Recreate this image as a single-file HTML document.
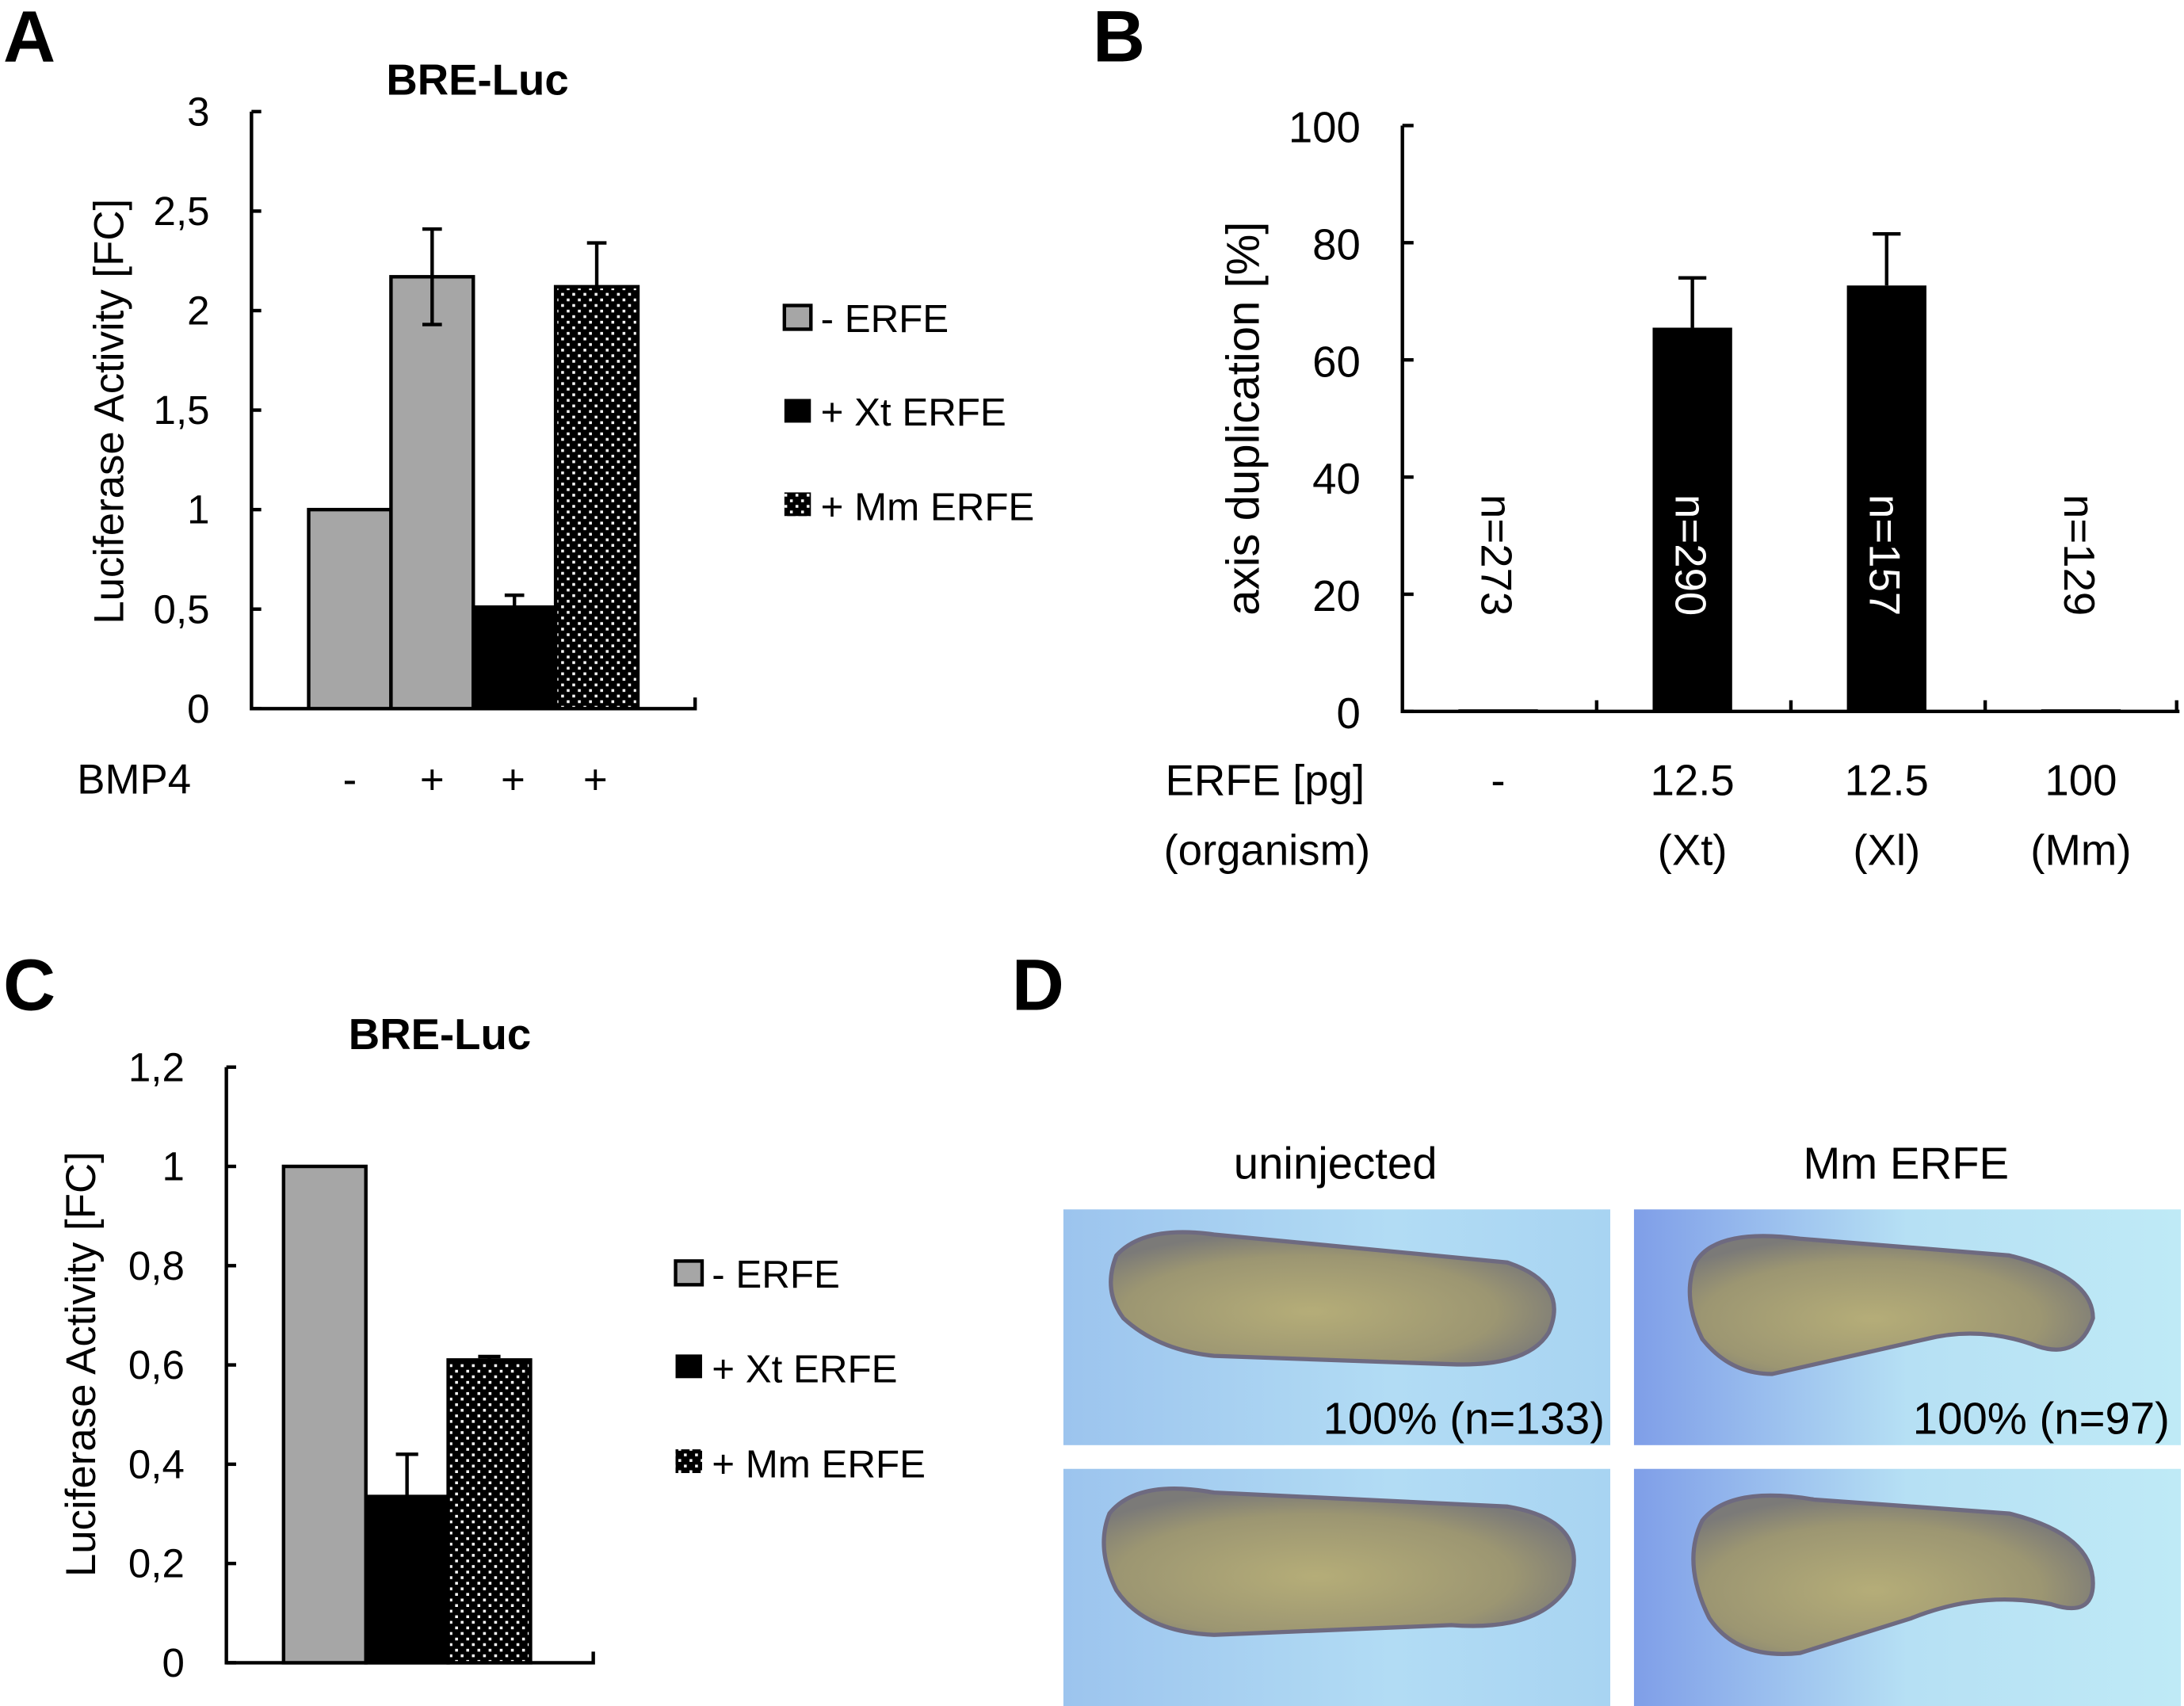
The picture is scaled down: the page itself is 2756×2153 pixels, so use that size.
<!DOCTYPE html>
<html><head><meta charset="utf-8"><style>
html,body{margin:0;padding:0;background:#fff}
svg{display:block}
text{font-family:"Liberation Sans Narrow","Liberation Sans",sans-serif;fill:#000}
</style></head><body>
<svg id="fig" width="2756" height="2153" viewBox="0 0 1565 1223" xmlns="http://www.w3.org/2000/svg">
<defs>
<pattern id="dots" width="8" height="8" patternUnits="userSpaceOnUse"><rect width="8" height="8" fill="#000"/><rect x="2" y="2" width="2" height="2" fill="#fff"/><rect x="6" y="6" width="2" height="2" fill="#fff"/></pattern>
<linearGradient id="bgL" x1="0" y1="0" x2="1" y2="0"><stop offset="0" stop-color="#9cc4ee"/><stop offset="0.6" stop-color="#b2dcf4"/><stop offset="1" stop-color="#a8d4f2"/></linearGradient>
<linearGradient id="bgR" x1="0" y1="0" x2="1" y2="0"><stop offset="0" stop-color="#7f9ee8"/><stop offset="0.5" stop-color="#b6e0f4"/><stop offset="1" stop-color="#bfeaf6"/></linearGradient>
<radialGradient id="emb" cx="0.45" cy="0.6" r="0.6"><stop offset="0" stop-color="#b5ad78"/><stop offset="0.7" stop-color="#9c9672"/><stop offset="1" stop-color="#7b7a78"/></radialGradient>
</defs>
<g>
<text x="2" y="44" font-size="52" font-weight="bold" font-family="Liberation Sans">A</text>
<text x="342" y="68" font-size="31" font-weight="bold" text-anchor="middle">BRE-Luc</text>
<text transform="translate(88,295) rotate(-90)" font-size="30" text-anchor="middle">Luciferase Activity [FC]</text>
<g id="aAxis"></g>
<g id="aBars"></g>
<text x="55" y="569" font-size="30">BMP4</text>
<g id="aCats"></g>
<g>
<rect x="562" y="219" width="19" height="17" fill="#a6a6a6" stroke="#000" stroke-width="2.5"/>
<text x="588" y="238" font-size="28">- ERFE</text>
<rect x="562" y="286" width="19" height="17" fill="#000"/>
<text x="588" y="305" font-size="28">+ Xt ERFE</text>
<rect x="562" y="353" width="19" height="17" fill="url(#dots)"/>
<text x="588" y="373" font-size="28">+ Mm ERFE</text>
</g>
</g>
<g>
<text x="783" y="44" font-size="52" font-weight="bold" font-family="Liberation Sans">B</text>
<text transform="translate(902,300) rotate(-90)" font-size="33" text-anchor="middle">axis duplication [%]</text>
<g id="bAxis"></g>
<g id="bBars"></g>
<text x="978" y="570" font-size="31" text-anchor="end">ERFE [pg]</text>
<text x="982" y="620" font-size="31" text-anchor="end">(organism)</text>
<g id="bCats"></g>
</g>
<g>
<text x="2" y="724" font-size="52" font-weight="bold" font-family="Liberation Sans">C</text>
<text x="315" y="752" font-size="31" font-weight="bold" text-anchor="middle">BRE-Luc</text>
<text transform="translate(68,978) rotate(-90)" font-size="30" text-anchor="middle">Luciferase Activity [FC]</text>
<g id="cAxis"></g>
<g id="cBars"></g>
<g>
<rect x="484" y="904" width="19" height="17" fill="#a6a6a6" stroke="#000" stroke-width="2.5"/>
<text x="510" y="923" font-size="28">- ERFE</text>
<rect x="484" y="971" width="19" height="17" fill="#000"/>
<text x="510" y="991" font-size="28">+ Xt ERFE</text>
<rect x="484" y="1039" width="19" height="17" fill="url(#dots)"/>
<text x="510" y="1059" font-size="28">+ Mm ERFE</text>
</g>
</g>
<g>
<text x="725" y="724" font-size="52" font-weight="bold" font-family="Liberation Sans">D</text>
<text x="957" y="845" font-size="32" text-anchor="middle">uninjected</text>
<text x="1366" y="845" font-size="32" text-anchor="middle">Mm ERFE</text>
<g>
<rect x="762" y="867" width="392" height="169" fill="url(#bgL)"/>
<path d="M800,900 Q820,878 870,885 L1080,905 Q1125,920 1110,955 Q1095,980 1040,978 L870,972 Q830,968 805,945 Q790,925 800,900Z" fill="url(#emb)" stroke="#6e6a80" stroke-width="3"/>
<text x="1150" y="1028" font-size="32" text-anchor="end">100% (n=133)</text>
</g>
<g>
<rect x="1171" y="867" width="392" height="169" fill="url(#bgR)"/>
<path d="M1215,905 Q1230,880 1290,888 L1440,900 Q1500,915 1500,945 Q1490,975 1460,965 Q1420,950 1380,960 L1270,985 Q1240,985 1220,960 Q1205,930 1215,905Z" fill="url(#emb)" stroke="#6e6a80" stroke-width="3"/>
<text x="1555" y="1028" font-size="32" text-anchor="end">100% (n=97)</text>
</g>
<g>
<rect x="762" y="1053" width="392" height="170" fill="url(#bgL)"/>
<path d="M795,1085 Q815,1060 870,1070 L1080,1080 Q1140,1090 1125,1135 Q1105,1170 1040,1165 L870,1172 Q820,1170 800,1140 Q785,1110 795,1085Z" fill="url(#emb)" stroke="#6e6a80" stroke-width="3"/>
</g>
<g>
<rect x="1171" y="1053" width="392" height="170" fill="url(#bgR)"/>
<path d="M1220,1090 Q1240,1065 1300,1075 L1440,1085 Q1500,1100 1500,1135 Q1500,1160 1470,1150 Q1420,1140 1370,1160 L1290,1185 Q1245,1190 1225,1160 Q1205,1120 1220,1090Z" fill="url(#emb)" stroke="#6e6a80" stroke-width="3"/>
</g>
</g>
</svg>
<script>
// Panel A data
const aCategories = ['-', '+', '+', '+'];
const aValues = [1.0, 2.17, 0.51, 2.12];
const aErrors = [0, 0.24, 0.06, 0.22];
const aTicks = [0, 0.5, 1, 1.5, 2, 2.5, 3];
const aTickLabels = ['0', '0,5', '1', '1,5', '2', '2,5', '3'];
// Panel B data
const bCategories = ['-', '12.5', '12.5', '100'];
const bOrganisms = ['', '(Xt)', '(Xl)', '(Mm)'];
const bValues = [0, 65.5, 72.7, 0];
const bErrors = [0, 8.5, 8.8, 0];
const bCounts = ['n=273', 'n=290', 'n=157', 'n=129'];
const bTicks = [0, 20, 40, 60, 80, 100];
// Panel C data
const cValues = [1.0, 0.335, 0.61];
const cErrors = [0, 0.085, 0.007];
const cTicks = [0, 0.2, 0.4, 0.6, 0.8, 1, 1.2];
const cTickLabels = ['0', '0,2', '0,4', '0,6', '0,8', '1', '1,2'];

const NS = 'http://www.w3.org/2000/svg';
function mk(parent, tag, attrs, txt) {
  const e = document.createElementNS(NS, tag);
  for (const k in attrs) e.setAttribute(k, attrs[k]);
  if (txt !== undefined) e.textContent = txt;
  parent.appendChild(e);
  return e;
}
const fills = ['#a6a6a6', '#a6a6a6', '#000', 'url(#dots)'];
const cFills = ['#a6a6a6', '#000', 'url(#dots)'];

// Panel A
(function () {
  const ax = document.getElementById('aAxis'), bars = document.getElementById('aBars'), cats = document.getElementById('aCats');
  const x0 = 180, x1 = 498, yB = 508, yT = 80, max = 3;
  const y = v => yB - (v / max) * (yB - yT);
  const l = mk(ax, 'path', {d: `M${x0},${yT} V${yB} H${x1} V${yB - 8}`, fill: 'none', stroke: '#000', 'stroke-width': 2.5});
  
  
  aTicks.forEach((t, i) => {
    mk(ax, 'line', {x1: x0, x2: x0 + 7, y1: y(t), y2: y(t), stroke: '#000', 'stroke-width': 2.5});
    const tx = mk(ax, 'text', {x: 150, y: y(t) + 10, 'font-size': 29, 'text-anchor': 'end'}, aTickLabels[i]);
    
    
  });
  const bw = 59, start = 221;
  aValues.forEach((v, i) => {
    const bx = start + i * bw;
    const r = mk(bars, 'rect', {x: bx, y: y(v), width: bw, height: yB - y(v), fill: fills[i], stroke: '#000', 'stroke-width': 2.5});
    
    
    if (aErrors[i] > 0) {
      const cx = bx + bw / 2;
      const lo = i === 1 ? v - aErrors[i] : v;
      const e = mk(bars, 'path', {d: `M${cx},${y(lo)} V${y(v + aErrors[i])} M${cx - 7},${y(v + aErrors[i])} H${cx + 7}` + (i === 1 ? ` M${cx - 7},${y(lo)} H${cx + 7}` : ''), stroke: '#000', 'stroke-width': 2.5, fill: 'none'});
      
      
    }
    const t = mk(cats, 'text', {x: bx + bw / 2 + [-0, 0, -1, -1][i], y: 569, 'font-size': 30, 'text-anchor': 'middle'}, aCategories[i]);
    
    
  });
})();

// Panel B
(function () {
  const ax = document.getElementById('bAxis'), bars = document.getElementById('bBars'), cats = document.getElementById('bCats');
  const x0 = 1005, x1 = 1562, yB = 510, yT = 90, max = 100;
  const y = v => yB - (v / max) * (yB - yT);
  const l = mk(ax, 'path', {d: `M${x0},${yT} V${yB} H${x1}`, fill: 'none', stroke: '#000', 'stroke-width': 2.5});
  
  
  bTicks.forEach(t => {
    mk(ax, 'line', {x1: x0, x2: x0 + 8, y1: y(t), y2: y(t), stroke: '#000', 'stroke-width': 2.5});
    const tx = mk(ax, 'text', {x: 975, y: y(t) + 12, 'font-size': 31, 'text-anchor': 'end'}, String(t));
    
    
  });
  const step = (x1 - x0) / 4;
  for (let i = 1; i <= 4; i++) mk(ax, 'line', {x1: x0 + i * step - (i === 4 ? 2 : 0), x2: x0 + i * step - (i === 4 ? 2 : 0), y1: yB - 8, y2: yB, stroke: '#000', 'stroke-width': 2.5});
  bValues.forEach((v, i) => {
    const cx = x0 + step * (i + 0.5) - 1;
    const bw = 57;
    const r = mk(bars, 'rect', {x: cx - bw / 2, y: v > 0 ? y(v) : yB - 1.5, width: bw, height: v > 0 ? yB - y(v) : 1.5, fill: '#000'});
    
    
    if (bErrors[i] > 0) {
      const e = mk(bars, 'path', {d: `M${cx},${y(v)} V${y(v + bErrors[i])} M${cx - 10},${y(v + bErrors[i])} H${cx + 10}`, stroke: '#000', 'stroke-width': 2.5, fill: 'none'});
      
      
    }
    const n = mk(bars, 'text', {transform: `translate(${cx - 12},398) rotate(90)`, 'font-size': 31, 'text-anchor': 'middle', style: v > 0 ? 'fill:#fff' : ''}, bCounts[i]);
    
    
    const c = mk(cats, 'text', {x: cx, y: 570, 'font-size': 31, 'text-anchor': 'middle'}, bCategories[i]);
    
    
    if (bOrganisms[i]) {
      const o = mk(cats, 'text', {x: cx, y: 620, 'font-size': 31, 'text-anchor': 'middle'}, bOrganisms[i]);
      
      
    }
  });
})();

// Panel C
(function () {
  const ax = document.getElementById('cAxis'), bars = document.getElementById('cBars');
  const x0 = 162, x1 = 425, yB = 1192, yT = 765, max = 1.2;
  const y = v => yB - (v / max) * (yB - yT);
  const l = mk(ax, 'path', {d: `M${x0},${yT} V${yB} H${x1} V${yB - 8}`, fill: 'none', stroke: '#000', 'stroke-width': 2.5});
  
  
  cTicks.forEach((t, i) => {
    mk(ax, 'line', {x1: x0, x2: x0 + 7, y1: y(t), y2: y(t), stroke: '#000', 'stroke-width': 2.5});
    const tx = mk(ax, 'text', {x: 132, y: y(t) + 10, 'font-size': 29, 'text-anchor': 'end'}, cTickLabels[i]);
    
    
  });
  const bw = 59, start = 203;
  cValues.forEach((v, i) => {
    const bx = start + i * bw;
    const r = mk(bars, 'rect', {x: bx, y: y(v), width: bw, height: yB - y(v), fill: cFills[i], stroke: '#000', 'stroke-width': 2.5});
    
    
    if (cErrors[i] > 0) {
      const cx = bx + bw / 2;
      const e = mk(bars, 'path', {d: `M${cx},${y(v)} V${y(v + cErrors[i])} M${cx - 8},${y(v + cErrors[i])} H${cx + 8}`, stroke: '#000', 'stroke-width': 2.5, fill: 'none'});
      
      
    }
  });
})();
</script>
</body></html>
